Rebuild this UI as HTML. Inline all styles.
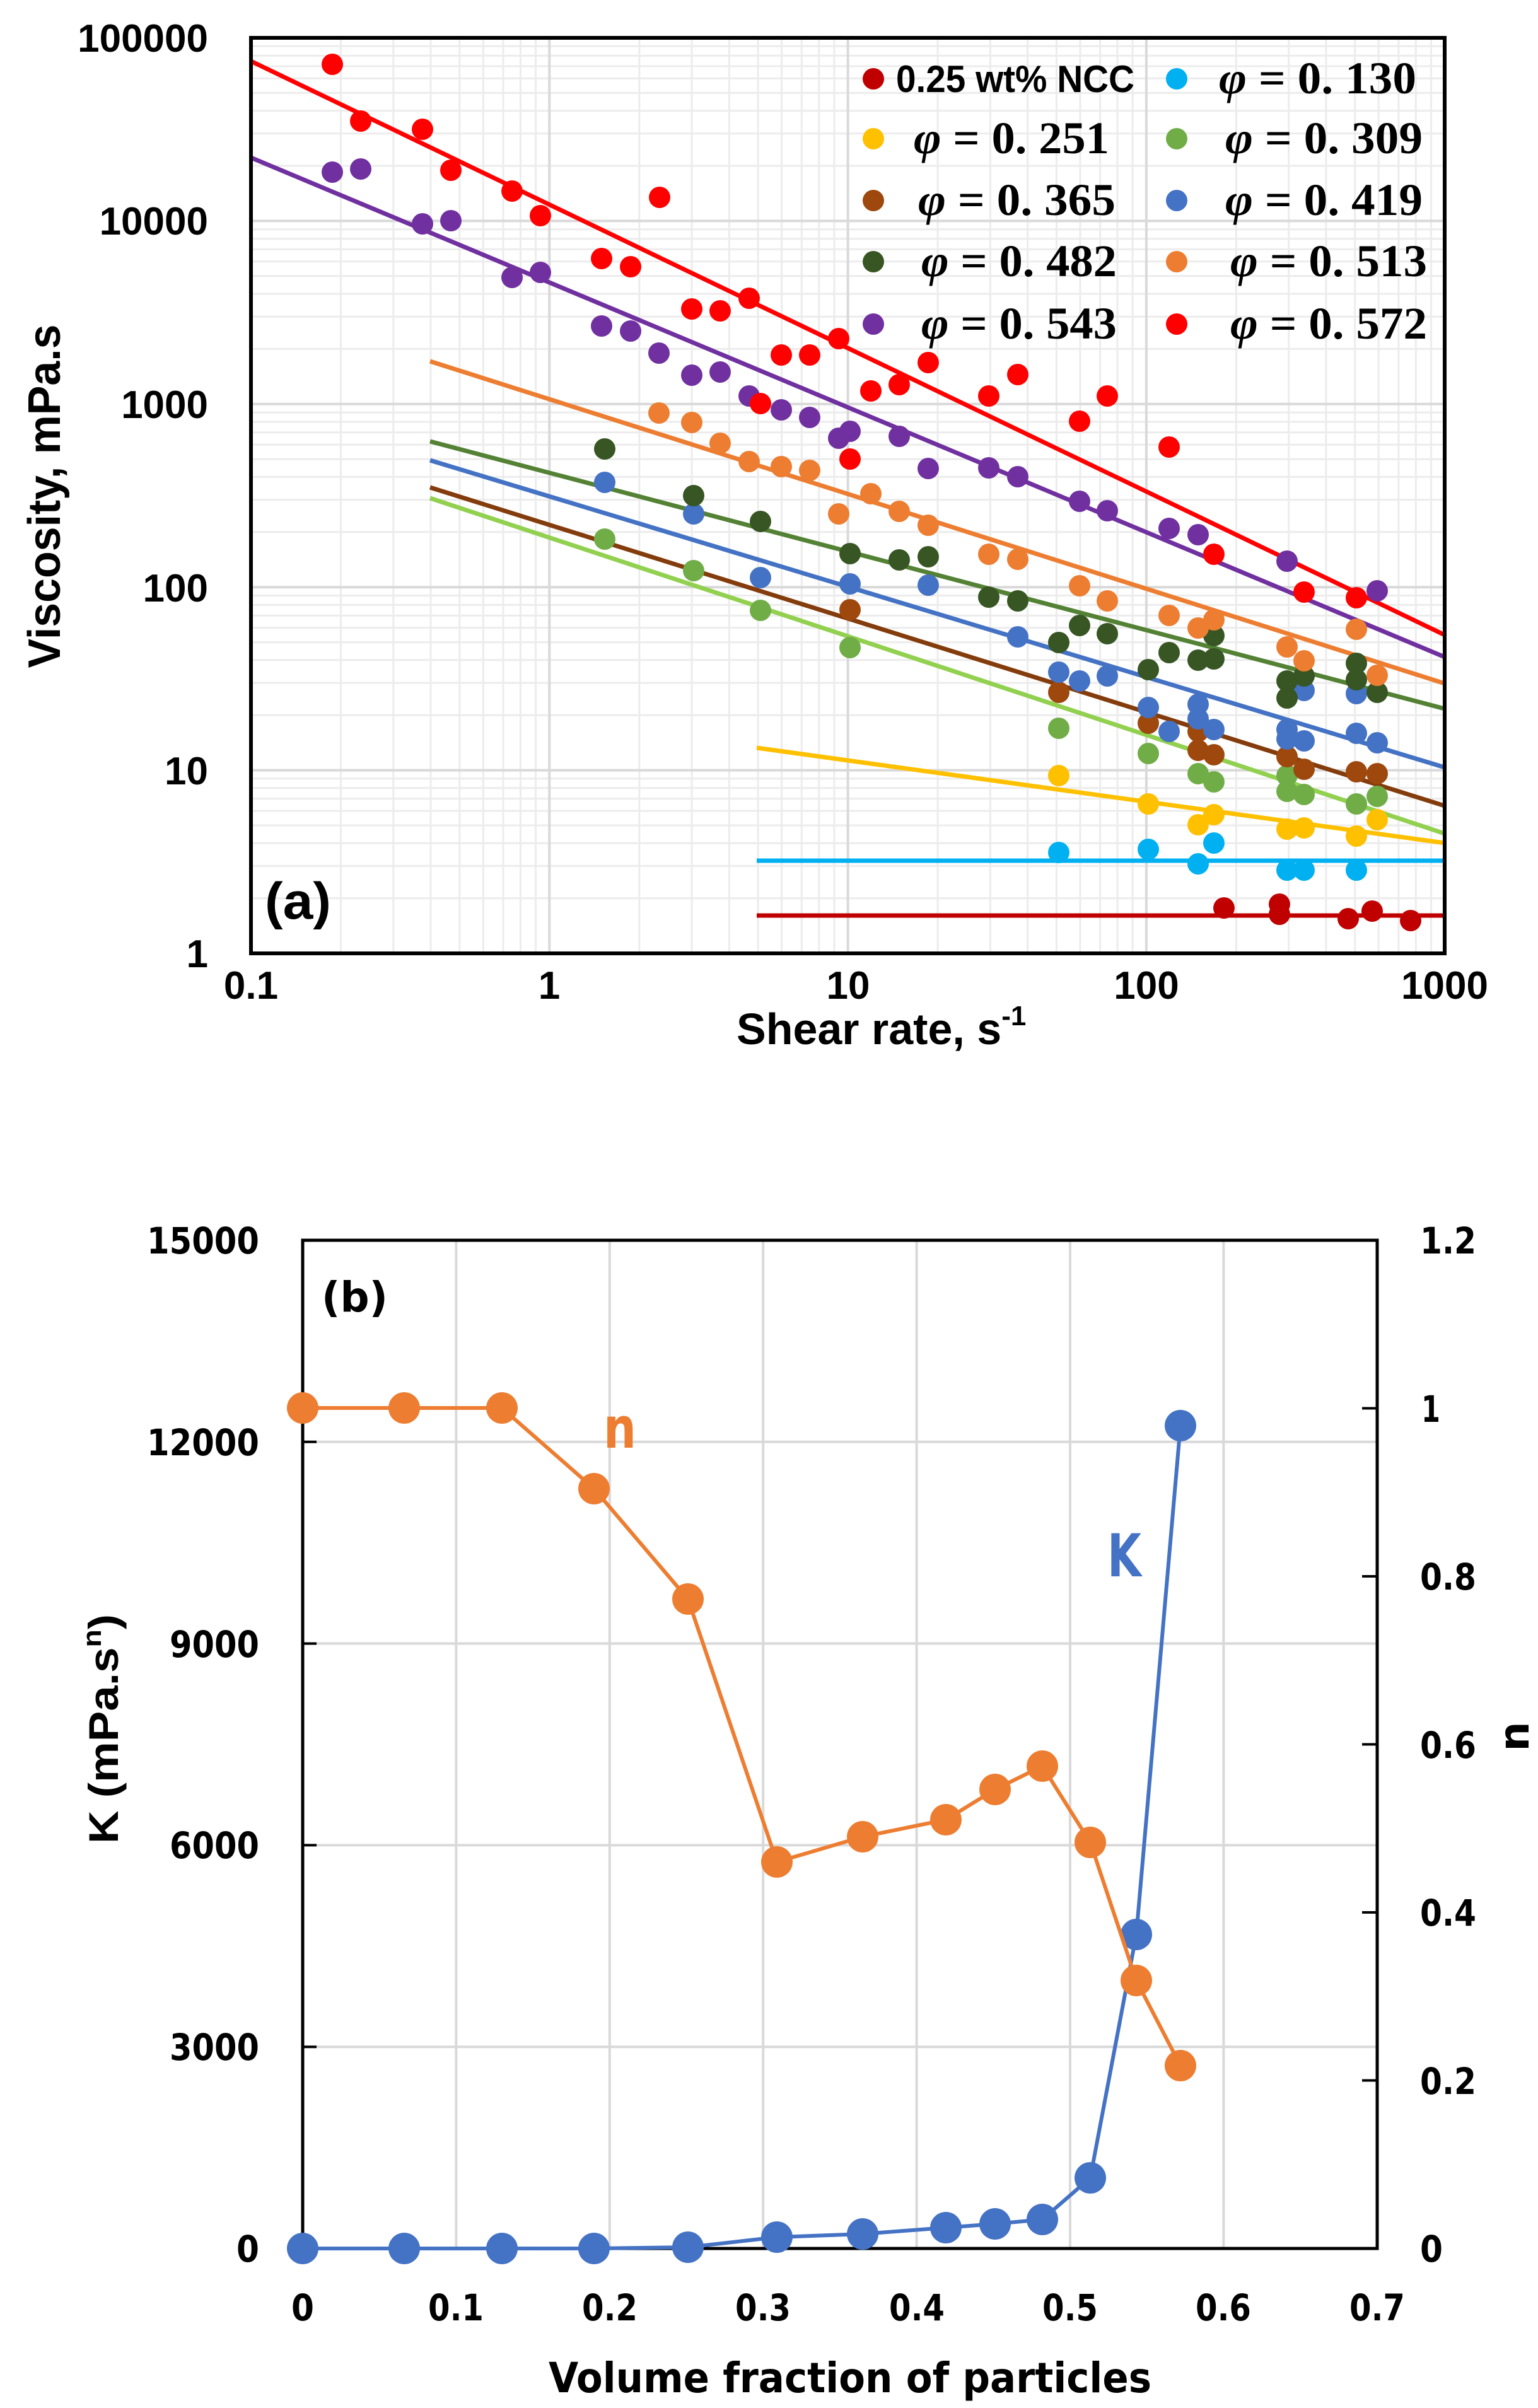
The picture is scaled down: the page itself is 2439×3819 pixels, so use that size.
<!DOCTYPE html>
<html><head><meta charset="utf-8"><style>
html,body{margin:0;padding:0;background:#fff;}
svg{display:block;}
.la{font-family:"Liberation Sans",sans-serif;font-weight:bold;fill:#000;}
.dv{font-family:"DejaVu Sans","Liberation Sans",sans-serif;font-weight:bold;fill:#000;}
.sf{font-family:"Liberation Serif",serif;font-weight:bold;fill:#000;}
</style></head><body>
<svg width="2439" height="3819" viewBox="0 0 2439 3819" xmlns="http://www.w3.org/2000/svg">
<rect width="2439" height="3819" fill="#fff"/>
<!-- ================= CHART A ================= -->
<g fill="none" stroke="#ececec" stroke-width="3">
<path d="M540.5 60V1512M623.8 60V1512M683 60V1512M728.8 60V1512M766.3 60V1512M798 60V1512M825.4 60V1512M849.6 60V1512M1013.8 60V1512M1097.1 60V1512M1156.3 60V1512M1202.1 60V1512M1239.6 60V1512M1271.3 60V1512M1298.7 60V1512M1322.9 60V1512M1487.1 60V1512M1570.4 60V1512M1629.6 60V1512M1675.4 60V1512M1712.9 60V1512M1744.6 60V1512M1772 60V1512M1796.2 60V1512M1960.4 60V1512M2043.7 60V1512M2102.9 60V1512M2148.7 60V1512M2186.2 60V1512M2217.9 60V1512M2245.3 60V1512M2269.5 60V1512"/>
<path d="M398 1424.6H2291M398 1373.4H2291M398 1337.2H2291M398 1309H2291M398 1286H2291M398 1266.6H2291M398 1249.8H2291M398 1234.9H2291M398 1134.2H2291M398 1083H2291M398 1046.8H2291M398 1018.6H2291M398 995.6H2291M398 976.2H2291M398 959.4H2291M398 944.5H2291M398 843.8H2291M398 792.6H2291M398 756.4H2291M398 728.2H2291M398 705.2H2291M398 685.8H2291M398 669H2291M398 654.1H2291M398 553.4H2291M398 502.2H2291M398 466H2291M398 437.8H2291M398 414.8H2291M398 395.4H2291M398 378.6H2291M398 363.7H2291M398 263H2291M398 211.8H2291M398 175.6H2291M398 147.4H2291M398 124.4H2291M398 105H2291M398 88.2H2291M398 73.3H2291"/>
</g>
<g fill="none" stroke="#d9d9d9" stroke-width="4">
<path d="M871.3 60V1512M1344.6 60V1512M1817.9 60V1512M398 350.4H2291M398 640.8H2291M398 931.2H2291M398 1221.6H2291"/>
</g>
<!-- trendlines -->
<g fill="none" stroke-width="7" stroke-linecap="butt">
<line x1="1200" y1="1452" x2="2291" y2="1452" stroke="#C00000"/>
<line x1="1200" y1="1365" x2="2291" y2="1365" stroke="#00B0F0"/>
<line x1="1200" y1="1186" x2="2291" y2="1337" stroke="#FFC000"/>
<line x1="682" y1="790" x2="2291" y2="1322" stroke="#92D050"/>
<line x1="682" y1="773" x2="2291" y2="1278" stroke="#843C0C"/>
<line x1="682" y1="730" x2="2291" y2="1217" stroke="#4472C4"/>
<line x1="682" y1="700" x2="2291" y2="1124" stroke="#548235"/>
<line x1="682" y1="573" x2="2291" y2="1084" stroke="#ED7D31"/>
<line x1="398" y1="250" x2="2291" y2="1042" stroke="#7030A0"/>
<line x1="398" y1="97" x2="2291" y2="1007" stroke="#FF0000"/>
</g>
<!-- points -->
<g fill="#C00000">
<circle cx="1941" cy="1440" r="17"/><circle cx="2029" cy="1434" r="17"/><circle cx="2029" cy="1450" r="17"/><circle cx="2138" cy="1457" r="17"/><circle cx="2176" cy="1445" r="17"/><circle cx="2237" cy="1460" r="17"/>
</g>
<g fill="#00B0F0">
<circle cx="1679" cy="1352" r="17"/><circle cx="1821" cy="1347" r="17"/><circle cx="1900" cy="1370" r="17"/><circle cx="1925" cy="1337" r="17"/><circle cx="2041" cy="1380" r="17"/><circle cx="2068" cy="1380" r="17"/><circle cx="2151" cy="1380" r="17"/>
</g>
<g fill="#FFC000">
<circle cx="1679" cy="1230" r="17"/><circle cx="1821" cy="1275" r="17"/><circle cx="1900" cy="1308" r="17"/><circle cx="1925" cy="1292" r="17"/><circle cx="2041" cy="1315" r="17"/><circle cx="2068" cy="1313" r="17"/><circle cx="2151" cy="1326" r="17"/><circle cx="2184" cy="1300" r="17"/>
</g>
<g fill="#70AD47">
<circle cx="959" cy="855" r="17"/><circle cx="1100" cy="905" r="17"/><circle cx="1206" cy="968" r="17"/><circle cx="1348" cy="1027" r="17"/><circle cx="1679" cy="1155" r="17"/><circle cx="1821" cy="1195" r="17"/><circle cx="1900" cy="1227" r="17"/><circle cx="1925" cy="1240" r="17"/><circle cx="2041" cy="1230" r="17"/><circle cx="2041" cy="1255" r="17"/><circle cx="2068" cy="1260" r="17"/><circle cx="2151" cy="1275" r="17"/><circle cx="2184" cy="1263" r="17"/>
</g>
<g fill="#9E480E">
<circle cx="1348" cy="967" r="17"/><circle cx="1679" cy="1098" r="17"/><circle cx="1821" cy="1147" r="17"/><circle cx="1900" cy="1160" r="17"/><circle cx="1900" cy="1190" r="17"/><circle cx="1925" cy="1197" r="17"/><circle cx="2041" cy="1200" r="17"/><circle cx="2068" cy="1220" r="17"/><circle cx="2151" cy="1224" r="17"/><circle cx="2184" cy="1227" r="17"/>
</g>
<g fill="#4472C4">
<circle cx="959" cy="765" r="17"/><circle cx="1100" cy="815" r="17"/><circle cx="1206" cy="916" r="17"/><circle cx="1348" cy="926" r="17"/><circle cx="1472" cy="928" r="17"/><circle cx="1614" cy="1010" r="17"/><circle cx="1679" cy="1066" r="17"/><circle cx="1712" cy="1080" r="17"/><circle cx="1756" cy="1072" r="17"/><circle cx="1821" cy="1122" r="17"/><circle cx="1854" cy="1160" r="17"/><circle cx="1900" cy="1117" r="17"/><circle cx="1900" cy="1140" r="17"/><circle cx="1925" cy="1157" r="17"/><circle cx="2041" cy="1157" r="17"/><circle cx="2068" cy="1095" r="17"/><circle cx="2041" cy="1172" r="17"/><circle cx="2068" cy="1175" r="17"/><circle cx="2151" cy="1100" r="17"/><circle cx="2151" cy="1163" r="17"/><circle cx="2184" cy="1178" r="17"/>
</g>
<g fill="#375623">
<circle cx="959" cy="712" r="17"/><circle cx="1100" cy="786" r="17"/><circle cx="1206" cy="827" r="17"/><circle cx="1348" cy="878" r="17"/><circle cx="1426" cy="888" r="17"/><circle cx="1472" cy="883" r="17"/><circle cx="1568" cy="947" r="17"/><circle cx="1614" cy="953" r="17"/><circle cx="1679" cy="1019" r="17"/><circle cx="1712" cy="992" r="17"/><circle cx="1756" cy="1005" r="17"/><circle cx="1821" cy="1062" r="17"/><circle cx="1854" cy="1035" r="17"/><circle cx="1900" cy="1047" r="17"/><circle cx="1925" cy="1008" r="17"/><circle cx="1925" cy="1045" r="17"/><circle cx="2041" cy="1080" r="17"/><circle cx="2068" cy="1072" r="17"/><circle cx="2041" cy="1107" r="17"/><circle cx="2151" cy="1052" r="17"/><circle cx="2151" cy="1078" r="17"/><circle cx="2184" cy="1098" r="17"/>
</g>
<g fill="#ED7D31">
<circle cx="1045" cy="655" r="17"/><circle cx="1097" cy="670" r="17"/><circle cx="1142" cy="703" r="17"/><circle cx="1188" cy="732" r="17"/><circle cx="1239" cy="740" r="17"/><circle cx="1284" cy="746" r="17"/><circle cx="1330" cy="815" r="17"/><circle cx="1381" cy="783" r="17"/><circle cx="1426" cy="811" r="17"/><circle cx="1472" cy="833" r="17"/><circle cx="1568" cy="879" r="17"/><circle cx="1614" cy="887" r="17"/><circle cx="1712" cy="929" r="17"/><circle cx="1756" cy="953" r="17"/><circle cx="1854" cy="976" r="17"/><circle cx="1900" cy="996" r="17"/><circle cx="1925" cy="983" r="17"/><circle cx="2041" cy="1026" r="17"/><circle cx="2068" cy="1048" r="17"/><circle cx="2151" cy="998" r="17"/><circle cx="2184" cy="1071" r="17"/>
</g>
<g fill="#7030A0">
<circle cx="527" cy="273" r="17"/><circle cx="572" cy="268" r="17"/><circle cx="670" cy="355" r="17"/><circle cx="715" cy="350" r="17"/><circle cx="812" cy="440" r="17"/><circle cx="857" cy="432" r="17"/><circle cx="954" cy="517" r="17"/><circle cx="1000" cy="525" r="17"/><circle cx="1045" cy="560" r="17"/><circle cx="1097" cy="595" r="17"/><circle cx="1142" cy="590" r="17"/><circle cx="1188" cy="628" r="17"/><circle cx="1239" cy="650" r="17"/><circle cx="1284" cy="662" r="17"/><circle cx="1330" cy="695" r="17"/><circle cx="1348" cy="684" r="17"/><circle cx="1426" cy="692" r="17"/><circle cx="1472" cy="743" r="17"/><circle cx="1568" cy="742" r="17"/><circle cx="1614" cy="756" r="17"/><circle cx="1712" cy="795" r="17"/><circle cx="1756" cy="810" r="17"/><circle cx="1854" cy="838" r="17"/><circle cx="1900" cy="848" r="17"/><circle cx="2041" cy="890" r="17"/><circle cx="2184" cy="937" r="17"/>
</g>
<g fill="#FF0000">
<circle cx="527" cy="102" r="17"/><circle cx="572" cy="192" r="17"/><circle cx="670" cy="205" r="17"/><circle cx="715" cy="270" r="17"/><circle cx="812" cy="303" r="17"/><circle cx="857" cy="342" r="17"/><circle cx="954" cy="410" r="17"/><circle cx="1000" cy="423" r="17"/><circle cx="1046" cy="313" r="17"/><circle cx="1097" cy="490" r="17"/><circle cx="1142" cy="493" r="17"/><circle cx="1188" cy="473" r="17"/><circle cx="1206" cy="640" r="17"/><circle cx="1239" cy="563" r="17"/><circle cx="1284" cy="563" r="17"/><circle cx="1330" cy="537" r="17"/><circle cx="1348" cy="728" r="17"/><circle cx="1381" cy="620" r="17"/><circle cx="1426" cy="610" r="17"/><circle cx="1472" cy="575" r="17"/><circle cx="1568" cy="628" r="17"/><circle cx="1614" cy="594" r="17"/><circle cx="1712" cy="668" r="17"/><circle cx="1756" cy="628" r="17"/><circle cx="1854" cy="709" r="17"/><circle cx="1925" cy="879" r="17"/><circle cx="2068" cy="939" r="17"/><circle cx="2151" cy="948" r="17"/>
</g>
<!-- border -->
<rect x="398" y="60" width="1893" height="1452" fill="none" stroke="#000" stroke-width="6"/>
<!-- legend -->
<g>
<circle cx="1385" cy="125" r="17" fill="#C00000"/>
<circle cx="1385" cy="220" r="17" fill="#FFC000"/>
<circle cx="1385" cy="318" r="17" fill="#9E480E"/>
<circle cx="1385" cy="415" r="17" fill="#375623"/>
<circle cx="1385" cy="514" r="17" fill="#7030A0"/>
<circle cx="1866" cy="125" r="17" fill="#00B0F0"/>
<circle cx="1866" cy="220" r="17" fill="#70AD47"/>
<circle cx="1866" cy="318" r="17" fill="#4472C4"/>
<circle cx="1866" cy="415" r="17" fill="#ED7D31"/>
<circle cx="1866" cy="514" r="17" fill="#FF0000"/>
<text class="la" x="1421" y="146" font-size="60" textLength="378" lengthAdjust="spacingAndGlyphs">0.25 wt% NCC</text>
<text class="sf" x="1449" y="243" font-size="72" textLength="310" lengthAdjust="spacingAndGlyphs"><tspan font-style="italic">φ</tspan> = 0. 251</text>
<text class="sf" x="1456" y="341" font-size="72" textLength="313" lengthAdjust="spacingAndGlyphs"><tspan font-style="italic">φ</tspan> = 0. 365</text>
<text class="sf" x="1461" y="438" font-size="72" textLength="310" lengthAdjust="spacingAndGlyphs"><tspan font-style="italic">φ</tspan> = 0. 482</text>
<text class="sf" x="1461" y="537" font-size="72" textLength="310" lengthAdjust="spacingAndGlyphs"><tspan font-style="italic">φ</tspan> = 0. 543</text>
<text class="sf" x="1933" y="148" font-size="72" textLength="313" lengthAdjust="spacingAndGlyphs"><tspan font-style="italic">φ</tspan> = 0. 130</text>
<text class="sf" x="1943" y="243" font-size="72" textLength="313" lengthAdjust="spacingAndGlyphs"><tspan font-style="italic">φ</tspan> = 0. 309</text>
<text class="sf" x="1943" y="341" font-size="72" textLength="313" lengthAdjust="spacingAndGlyphs"><tspan font-style="italic">φ</tspan> = 0. 419</text>
<text class="sf" x="1951" y="438" font-size="72" textLength="312" lengthAdjust="spacingAndGlyphs"><tspan font-style="italic">φ</tspan> = 0. 513</text>
<text class="sf" x="1951" y="537" font-size="72" textLength="312" lengthAdjust="spacingAndGlyphs"><tspan font-style="italic">φ</tspan> = 0. 572</text>
</g>
<!-- y tick labels -->
<g class="la" font-size="62" text-anchor="end">
<text x="330" y="82">100000</text>
<text x="330" y="372">10000</text>
<text x="330" y="663">1000</text>
<text x="330" y="954">100</text>
<text x="330" y="1244">10</text>
<text x="330" y="1534">1</text>
</g>
<!-- x tick labels -->
<g class="la" font-size="62" text-anchor="middle">
<text x="398" y="1584">0.1</text>
<text x="871" y="1584">1</text>
<text x="1345" y="1584">10</text>
<text x="1818" y="1584">100</text>
<text x="2291" y="1584">1000</text>
</g>
<text class="la" x="420" y="1457" font-size="82" textLength="105" lengthAdjust="spacingAndGlyphs">(a)</text>
<text class="la" font-size="72" text-anchor="middle" transform="translate(95,787) rotate(-90)" textLength="545" lengthAdjust="spacingAndGlyphs">Viscosity, mPa.s</text>
<text class="la" x="1168" y="1656" font-size="70">Shear rate, s<tspan font-size="44" dy="-30">-1</tspan></text>

<!-- ================= CHART B ================= -->
<g fill="none" stroke="#d9d9d9" stroke-width="4">
<path d="M723.4 1967V3566M966.8 1967V3566M1210.2 1967V3566M1453.6 1967V3566M1697 1967V3566M1940.4 1967V3566M480 3246.2H2184M480 2926.4H2184M480 2606.6H2184M480 2286.8H2184"/>
</g>
<g fill="none" stroke="#000" stroke-width="4">
<path d="M480 3246.2H502M480 2926.4H502M480 2606.6H502M480 2286.8H502M2160 3299.5H2184M2160 3033H2184M2160 2766.5H2184M2160 2500H2184M2160 2233.5H2184"/>
</g>
<rect x="480" y="1967" width="1704" height="1599" fill="none" stroke="#000" stroke-width="5"/>
<!-- K series -->
<polyline fill="none" stroke="#4472C4" stroke-width="6" points="480,3566 641,3566 796,3566 942,3566 1091,3564 1232,3548 1368,3543 1500,3533 1578,3527 1653,3520 1729,3454 1802,3068 1872,2261"/>
<g fill="#4472C4">
<circle cx="480" cy="3566" r="25"/><circle cx="641" cy="3566" r="25"/><circle cx="796" cy="3566" r="25"/><circle cx="942" cy="3566" r="25"/><circle cx="1091" cy="3564" r="25"/><circle cx="1232" cy="3548" r="25"/><circle cx="1368" cy="3543" r="25"/><circle cx="1500" cy="3533" r="25"/><circle cx="1578" cy="3527" r="25"/><circle cx="1653" cy="3520" r="25"/><circle cx="1729" cy="3454" r="25"/><circle cx="1802" cy="3068" r="25"/><circle cx="1872" cy="2261" r="25"/>
</g>
<!-- n series -->
<polyline fill="none" stroke="#ED7D31" stroke-width="6" points="480,2233 641,2233 796,2233 942,2361 1091,2536 1232,2953 1368,2913 1500,2886 1578,2838 1653,2801 1729,2922 1802,3141 1872,3276"/>
<g fill="#ED7D31">
<circle cx="480" cy="2233" r="25"/><circle cx="641" cy="2233" r="25"/><circle cx="796" cy="2233" r="25"/><circle cx="942" cy="2361" r="25"/><circle cx="1091" cy="2536" r="25"/><circle cx="1232" cy="2953" r="25"/><circle cx="1368" cy="2913" r="25"/><circle cx="1500" cy="2886" r="25"/><circle cx="1578" cy="2838" r="25"/><circle cx="1653" cy="2801" r="25"/><circle cx="1729" cy="2922" r="25"/><circle cx="1802" cy="3141" r="25"/><circle cx="1872" cy="3276" r="25"/>
</g>
<!-- left tick labels -->
<g class="dv" font-size="58" text-anchor="end">
<text x="411" y="1988" textLength="178" lengthAdjust="spacingAndGlyphs">15000</text>
<text x="411" y="2308" textLength="178" lengthAdjust="spacingAndGlyphs">12000</text>
<text x="411" y="2628" textLength="142" lengthAdjust="spacingAndGlyphs">9000</text>
<text x="411" y="2947" textLength="142" lengthAdjust="spacingAndGlyphs">6000</text>
<text x="411" y="3267" textLength="142" lengthAdjust="spacingAndGlyphs">3000</text>
<text x="411" y="3587" textLength="36" lengthAdjust="spacingAndGlyphs">0</text>
</g>
<!-- right tick labels -->
<g class="dv" font-size="58">
<text x="2252" y="1988" textLength="89" lengthAdjust="spacingAndGlyphs">1.2</text>
<text x="2254" y="2255" textLength="30" lengthAdjust="spacingAndGlyphs">1</text>
<text x="2252" y="2521" textLength="89" lengthAdjust="spacingAndGlyphs">0.8</text>
<text x="2252" y="2788" textLength="89" lengthAdjust="spacingAndGlyphs">0.6</text>
<text x="2252" y="3054" textLength="89" lengthAdjust="spacingAndGlyphs">0.4</text>
<text x="2252" y="3321" textLength="89" lengthAdjust="spacingAndGlyphs">0.2</text>
<text x="2252" y="3587" textLength="36" lengthAdjust="spacingAndGlyphs">0</text>
</g>
<!-- bottom tick labels -->
<g class="dv" font-size="58" text-anchor="middle">
<text x="480" y="3680" textLength="36" lengthAdjust="spacingAndGlyphs">0</text>
<text x="723" y="3680" textLength="88" lengthAdjust="spacingAndGlyphs">0.1</text>
<text x="967" y="3680" textLength="88" lengthAdjust="spacingAndGlyphs">0.2</text>
<text x="1210" y="3680" textLength="88" lengthAdjust="spacingAndGlyphs">0.3</text>
<text x="1454" y="3680" textLength="88" lengthAdjust="spacingAndGlyphs">0.4</text>
<text x="1697" y="3680" textLength="88" lengthAdjust="spacingAndGlyphs">0.5</text>
<text x="1940" y="3680" textLength="88" lengthAdjust="spacingAndGlyphs">0.6</text>
<text x="2184" y="3680" textLength="88" lengthAdjust="spacingAndGlyphs">0.7</text>
</g>
<text class="dv" x="510" y="2080" font-size="66" textLength="105" lengthAdjust="spacingAndGlyphs">(b)</text>
<text class="dv" x="957" y="2296" font-size="90" style="fill:#ED7D31" textLength="52" lengthAdjust="spacingAndGlyphs">n</text>
<text class="dv" x="1756" y="2500" font-size="94" style="fill:#4472C4" textLength="54" lengthAdjust="spacingAndGlyphs">K</text>
<text class="la" font-size="66" text-anchor="middle" transform="translate(187,2742) rotate(-90)" textLength="364" lengthAdjust="spacingAndGlyphs">K (mPa.s<tspan font-size="42" dy="-27">n</tspan><tspan dy="27">)</tspan></text>
<text class="dv" font-size="66" text-anchor="middle" transform="translate(2424,2754) rotate(-90)">n</text>
<text class="dv" x="870" y="3794" font-size="66" textLength="956" lengthAdjust="spacingAndGlyphs">Volume fraction of particles</text>
</svg>
</body></html>
